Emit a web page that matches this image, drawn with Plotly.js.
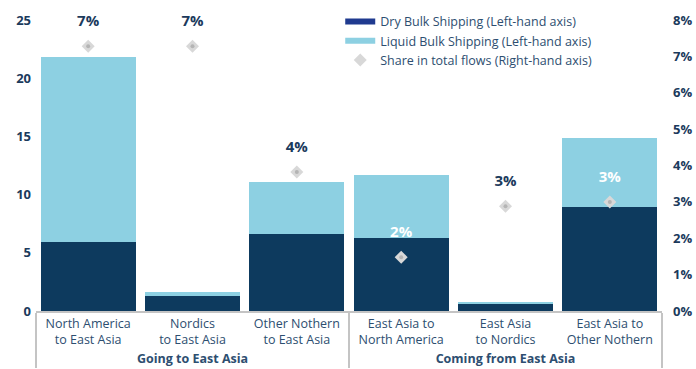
<!DOCTYPE html>
<html>
<head>
<meta charset="utf-8">
<script src="https://cdn.plot.ly/plotly-3.0.1.min.js"></script>
<style>html,body{margin:0;padding:0;background:#fff;}#chart{width:696px;height:369px;}</style>
</head>
<body>
<div id="chart"></div>
<script>
const groups = ["Going to East Asia","Going to East Asia","Going to East Asia","Coming from East Asia","Coming from East Asia","Coming from East Asia"];
const categories = ["North America<br>to East Asia","Nordics<br>to East Asia","Other Nothern<br>to East Asia","East Asia to<br>North America","East Asia<br>to Nordics","East Asia to<br>Other Nothern"];
const dryBulk = [5.9, 1.3, 6.6, 6.3, 0.6, 8.9];
const liquidBulk = [15.9, 0.35, 4.45, 5.4, 0.2, 6.0];
const sharePct = [7.28, 7.28, 3.82, 1.48, 2.88, 3.0];
const shareLabels = ["7%","7%","4%","2%","3%","3%"];

const NAVY = "#1b3a5c";
const DARK = "#0d3a5e";
const LIGHT = "#8dd0e2";
const FONT = "Open Sans, sans-serif";
const x = [groups.map(g => "<b>" + g + "</b>"), categories];
const labelColors = [NAVY, NAVY, NAVY, "#ffffff", NAVY, "#ffffff"];

const traces = [
  {type:"bar", x:x, y:dryBulk, marker:{color:DARK}, name:"Dry Bulk Shipping (Left-hand axis)", showlegend:false, hoverinfo:"skip"},
  {type:"bar", x:x, y:liquidBulk, marker:{color:LIGHT}, name:"Liquid Bulk Shipping (Left-hand axis)", showlegend:false, hoverinfo:"skip"},
  {type:"scatter", mode:"lines", x:[null], y:[null], line:{color:"#1f3a8f", width:6}, name:"Dry Bulk Shipping (Left-hand axis)"},
  {type:"scatter", mode:"lines", x:[null], y:[null], line:{color:LIGHT, width:6}, name:"Liquid Bulk Shipping (Left-hand axis)"},
  {type:"scatter", mode:"markers", x:x, y:sharePct, yaxis:"y2", name:"Share in total flows (Right-hand axis)",
   marker:{symbol:"diamond", size:10, color:"#d8d8d8"}, hoverinfo:"skip", cliponaxis:false},
  {type:"scatter", mode:"markers", x:x, y:sharePct, yaxis:"y2", showlegend:false,
   marker:{symbol:"circle", size:4, color:"#b4b4b4"}, hoverinfo:"skip", cliponaxis:false},
  {type:"scatter", mode:"markers+text", x:x, y:sharePct, yaxis:"y2", showlegend:false,
   marker:{size:24, color:"rgba(0,0,0,0)"}, cliponaxis:false,
   text:shareLabels.map(s=>"<b>"+s+"</b>"), textposition:"top center",
   textfont:{family:FONT, size:15, color:labelColors}, hoverinfo:"skip"}
];

const layout = {
  width:696, height:369,
  margin:{l:36, r:34, t:20, b:58, autoexpand:false},
  paper_bgcolor:"#ffffff", plot_bgcolor:"#ffffff",
  barmode:"stack", bargap:0.09,
  font:{family:FONT, color:NAVY},
  xaxis:{type:"multicategory", showgrid:false, zeroline:false, showline:true, linecolor:"#c4c4c4", linewidth:2,
         showdividers:true, dividercolor:"#c4c4c4", dividerwidth:2, ticks:"", automargin:false,
         tickfont:{family:FONT, size:12.5, color:"#2d4e70"}},
  yaxis:{range:[0,25], dtick:5, showgrid:false, zeroline:false, showline:false, ticks:"", automargin:false,
         tickfont:{family:FONT, size:13, color:NAVY, weight:"bold"}, ticklabelstandoff:4},
  yaxis2:{range:[0,8], dtick:1, ticksuffix:"%", overlaying:"y", side:"right", showgrid:false, zeroline:false, ticks:"", automargin:false,
          tickfont:{family:FONT, size:13, color:NAVY, weight:"bold"}, ticklabelstandoff:10},
  legend:{x:0.486, y:1.045, xanchor:"left", yanchor:"top", bgcolor:"rgba(0,0,0,0)", traceorder:"normal",
          font:{family:FONT, size:12.5, color:"#2d4e70"}, tracegroupgap:0},
  showlegend:true
};

Plotly.newPlot("chart", traces, layout, {displayModeBar:false, staticPlot:true});
</script>
</body>
</html>
